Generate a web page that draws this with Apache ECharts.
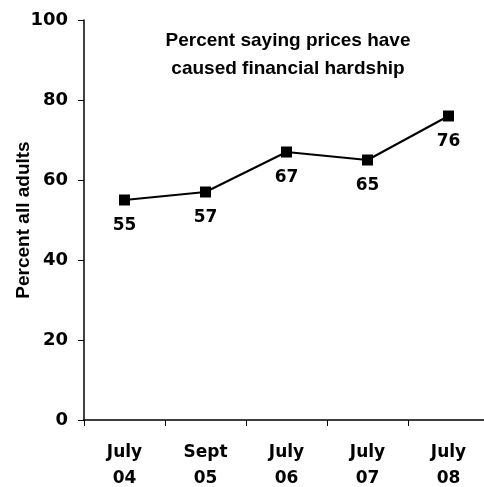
<!DOCTYPE html>
<html>
<head>
<meta charset="utf-8">
<script src="https://cdn.jsdelivr.net/npm/echarts@6/dist/echarts.min.js"></script>
<style>
html,body{margin:0;padding:0;background:#fff;}
#c{width:484px;height:487px;}
</style>
</head>
<body>
<div id="c"></div>
<script>
var categories = ['July\n04', 'Sept\n05', 'July\n06', 'July\n07', 'July\n08'];
var values = [55, 57, 67, 65, 76];
var yTicks = [0, 20, 40, 60, 80, 100];
var titleText = 'Percent saying prices have\ncaused financial hardship';
var yName = 'Percent all adults';

var chart = echarts.init(document.getElementById('c'), null, {renderer: 'canvas'});
var bold = 'DejaVu Sans';
var sans = 'Liberation Sans';
chart.setOption({
  animation: false,
  backgroundColor: '#fff',
  title: {
    text: titleText,
    left: 283,
    top: 22,
    textAlign: 'center',
    textStyle: {fontFamily: sans, fontWeight: 'bold', fontSize: 19, lineHeight: 28, color: '#000'}
  },
  grid: {left: 84, top: 20, width: 405, height: 400, containLabel: false, outerBoundsMode: 'none'},
  xAxis: {
    type: 'category',
    data: categories,
    boundaryGap: true,
    axisLine: {lineStyle: {color: '#000', width: 1.5}},
    axisTick: {show: true, length: 6, lineStyle: {color: '#000', width: 1}},
    axisLabel: {color: '#000', fontFamily: bold, fontWeight: 'bold', fontSize: 17, lineHeight: 26, margin: 20, interval: 0}
  },
  yAxis: {
    type: 'value',
    min: yTicks[0],
    max: yTicks[yTicks.length - 1],
    interval: 20,
    name: yName,
    nameLocation: 'middle',
    nameGap: 51,
    nameMoveOverlap: false,
    nameTextStyle: {color: '#000', fontFamily: sans, fontWeight: 'bold', fontSize: 19},
    splitLine: {show: false},
    axisLine: {show: true, lineStyle: {color: '#000', width: 1.5}},
    axisTick: {show: true, length: 6, lineStyle: {color: '#000', width: 1}},
    axisLabel: {color: '#000', fontFamily: bold, fontWeight: 'bold', fontSize: 18, margin: 16}
  },
  series: [{
    type: 'line',
    data: values,
    symbol: 'rect',
    symbolSize: 11,
    lineStyle: {color: '#000', width: 2},
    itemStyle: {color: '#000'},
    label: {show: true, position: 'bottom', distance: 12, color: '#000', fontFamily: bold, fontWeight: 'bold', fontSize: 17}
  }]
});
</script>
</body>
</html>
